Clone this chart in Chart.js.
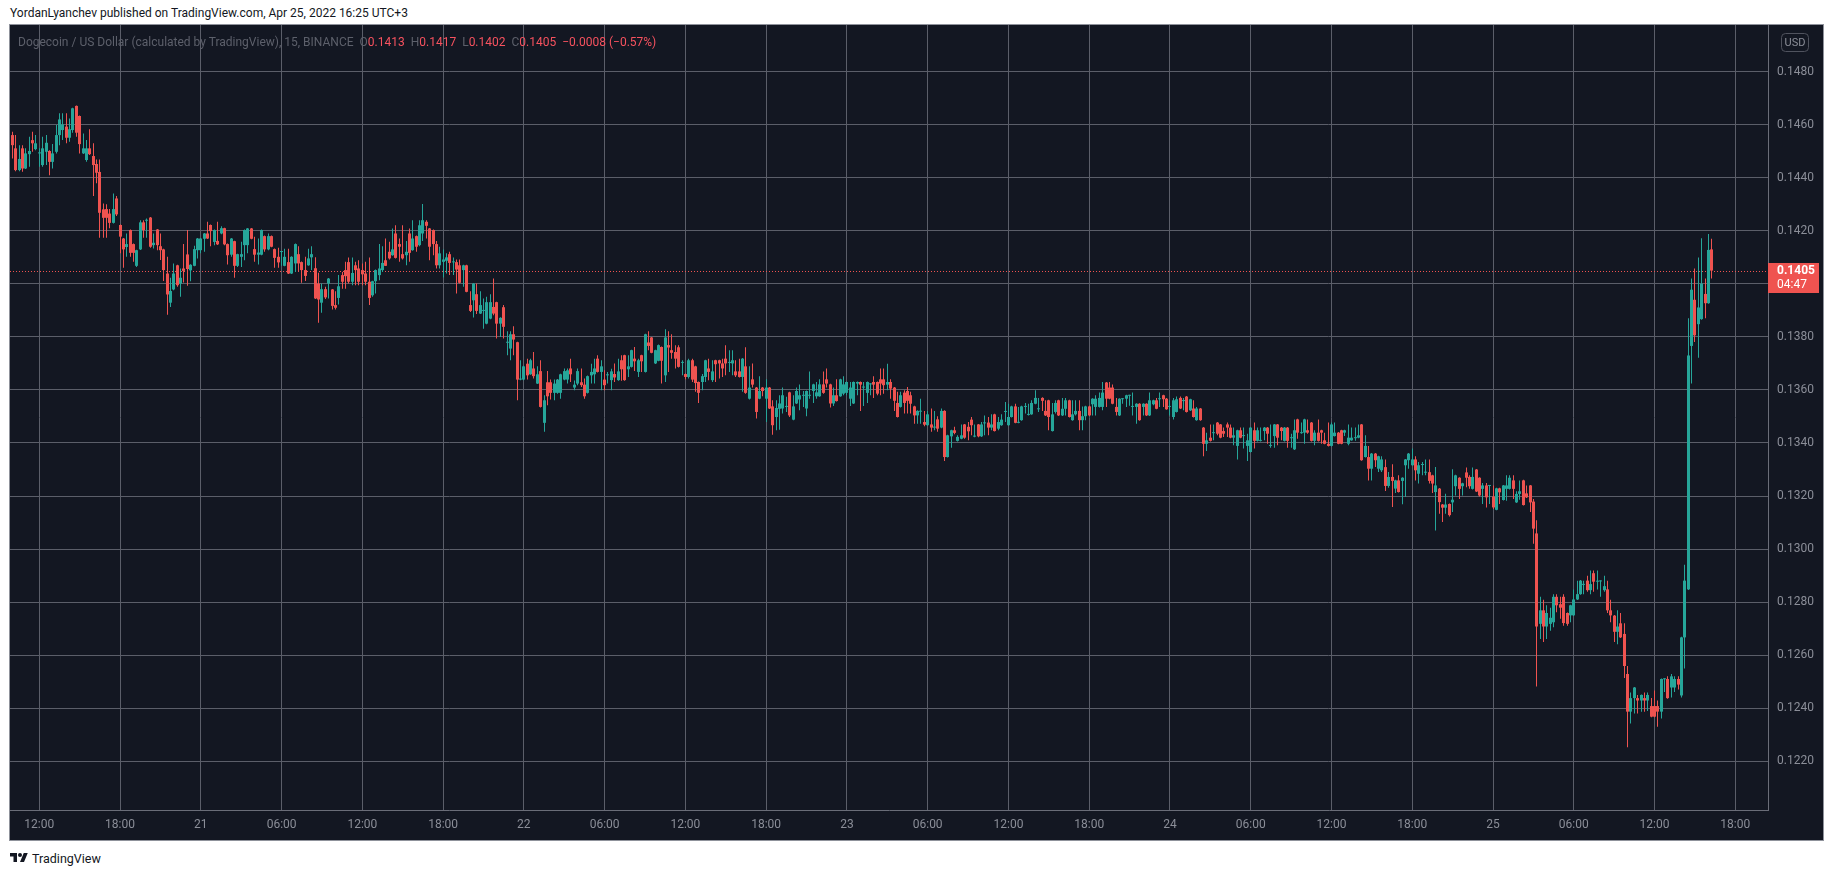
<!DOCTYPE html>
<html>
<head>
<meta charset="utf-8">
<title>DOGEUSD 15m</title>
<script src="https://cdn.jsdelivr.net/npm/chart.js@4.4.1/dist/chart.umd.min.js"></script>
<style>
  html, body { margin: 0; padding: 0; background: #ffffff; width: 1834px; height: 875px; overflow: hidden; font-family: Roboto, "Noto Sans", sans-serif; }
  #header { position: absolute; left: 10px; top: 6px; font-size: 12px; line-height: 14px; color: #131722; white-space: nowrap; }
  #frame { position: absolute; left: 10px; top: 25px; width: 1813px; height: 815px; background: #131722; outline: 1px solid #8f929b; }
  #legend { position: absolute; left: 8px; top: 10px; font-size: 12px; line-height: 14px; color: #5d606b; white-space: nowrap; }
  #legend .v { color: #f7525f; }
  #legend .gap { display: inline-block; width: 6px; }
  #footer { position: absolute; left: 10px; top: 850px; height: 16px; display: flex; align-items: center; font-size: 12.5px; color: #131722; }
  #footer svg { margin-right: 4px; }
</style>
</head>
<body>
<div id="header">YordanLyanchev published on TradingView.com, Apr 25, 2022 16:25 UTC+3</div>
<div id="frame">
  <canvas id="chart" width="1813" height="815"></canvas>
  <div id="legend"></div>
</div>
<div id="footer">
  <svg width="18" height="14" viewBox="0 0 36 28"><path d="M14 22H7V11H0V4h14v18zM28 22h-8l7.5-18h8L28 22z" fill="#131722"/><circle cx="20" cy="8" r="4" fill="#131722"/></svg>
  <span>TradingView</span>
</div>
<script>
// Dogecoin / US Dollar, 15 minute candles, 20 Apr 10:00 .. 25 Apr 16:15 (UTC+3)
// prices are in units of 0.00001 USD
const PRICE_UNIT = 0.00001;

const opens = [
  14561,14511,14429,14511,14435,14489,14542,14508,14492,14448,14498,14501,14460,14498,14561,14580,14593,14551,14580,14671,
  14633,14492,14467,14511,14482,14452,14422,14281,14282,14265,14230,14322,14222,14171,14139,14203,14150,14068,14130,14232,
  14238,14250,14146,14205,14142,14130,14039,13929,13979,14070,14001,14058,14111,14051,14068,14127,14127,14170,14190,14222,
  14158,14162,14190,14210,14150,14110,14161,14068,14102,14146,14146,14209,14131,14110,14110,14180,14130,14180,14131,14102,
  14120,14068,14082,14039,14077,14112,14082,14052,14070,14100,14059,14001,13929,13980,14001,13979,13920,13947,14033,14052,
  14082,14008,14070,14058,14052,14039,14008,13957,14010,14033,14052,14089,14121,14108,14190,14150,14112,14108,14190,14127,
  14180,14146,14190,14234,14209,14203,14150,14070,14083,14087,14112,14081,14082,14070,14052,14070,13920,13938,13961,13888,
  13898,13850,13869,13913,13931,13850,13912,13778,13756,13810,13780,13639,13639,13699,13659,13681,13624,13671,13476,13629,
  13629,13589,13589,13589,13639,13639,13681,13609,13624,13629,13620,13589,13655,13659,13718,13668,13639,13655,13637,13660,
  13637,13712,13731,13678,13687,13718,13668,13731,13668,13779,13798,13700,13710,13762,13655,13769,13750,13743,13761,13702,
  13660,13649,13712,13689,13630,13630,13649,13681,13637,13712,13712,13700,13718,13702,13700,13670,13670,13649,13689,13567,
  13640,13609,13567,13609,13567,13609,13538,13498,13529,13530,13536,13591,13488,13549,13564,13578,13530,13578,13596,13576,
  13576,13621,13640,13621,13549,13580,13576,13586,13589,13567,13549,13624,13630,13609,13589,13621,13630,13630,13640,13640,
  13620,13630,13609,13551,13536,13590,13596,13580,13538,13504,13518,13479,13467,13470,13458,13489,13458,13521,13347,13425,
  13448,13408,13416,13470,13461,13488,13424,13470,13425,13474,13477,13458,13508,13454,13467,13517,13467,13498,13538,13476,
  13486,13536,13506,13508,13548,13527,13570,13521,13561,13445,13517,13561,13504,13529,13561,13486,13508,13521,13486,13501,
  13538,13546,13536,13536,13536,13628,13609,13609,13536,13504,13565,13567,13578,13536,13536,13548,13536,13548,13504,13546,
  13561,13565,13580,13567,13536,13498,13517,13570,13558,13575,13523,13530,13486,13530,13458,13397,13420,13437,13477,13470,
  13445,13470,13458,13420,13389,13448,13426,13389,13366,13448,13408,13408,13445,13458,13389,13426,13470,13458,13408,13458,
  13418,13376,13489,13437,13439,13448,13477,13408,13439,13448,13410,13397,13389,13426,13439,13448,13439,13397,13410,13418,
  13420,13470,13347,13347,13303,13360,13303,13297,13309,13238,13272,13228,13259,13257,13316,13335,13316,13338,13284,13317,
  13288,13290,13278,13215,13228,13168,13156,13170,13176,13237,13269,13237,13289,13272,13227,13300,13269,13227,13240,13238,
  13198,13148,13229,13185,13227,13227,13259,13176,13208,13259,13210,13240,13179,13059,12718,12769,12708,12718,12724,12820,
  12792,12820,12759,12750,12750,12810,12830,12865,12881,12845,12909,12877,12878,12845,12848,12769,12749,12688,12720,12680,
  12529,12387,12438,12438,12429,12438,12429,12408,12408,12408,12387,12509,12510,12478,12478,12510,12448,12667,12848,13766,
  13940,13848,13867,13962,13927,14130
];

const highs = [
  14574,14561,14523,14523,14511,14555,14574,14561,14511,14555,14561,14504,14527,14599,14643,14643,14643,14624,14664,14673,
  14635,14567,14542,14583,14530,14469,14469,14303,14300,14282,14341,14331,14224,14173,14190,14205,14152,14129,14240,14240,
  14246,14252,14190,14207,14190,14132,14102,14023,14077,14072,14058,14150,14203,14074,14144,14173,14173,14192,14234,14224,
  14205,14234,14217,14212,14152,14173,14163,14114,14159,14205,14211,14211,14178,14171,14205,14182,14190,14182,14133,14136,
  14123,14132,14132,14104,14152,14142,14084,14102,14132,14142,14100,14042,14001,13989,14022,13981,13972,14033,14045,14083,
  14099,14099,14083,14089,14077,14083,14099,14012,14054,14150,14142,14171,14159,14209,14221,14171,14221,14162,14209,14240,
  14182,14240,14301,14240,14211,14205,14162,14140,14130,14115,14121,14099,14092,14092,14072,14072,13972,14003,14001,13972,
  13945,13951,13961,14020,13933,13874,13920,13821,13821,13840,13782,13712,13691,13718,13718,13743,13689,13712,13580,13671,
  13639,13639,13641,13661,13681,13681,13718,13636,13681,13681,13643,13654,13699,13718,13731,13712,13674,13668,13680,13700,
  13718,13731,13733,13731,13752,13762,13718,13733,13812,13821,13800,13752,13771,13764,13829,13821,13810,13769,13769,13712,
  13662,13718,13718,13691,13632,13660,13714,13718,13712,13714,13714,13718,13769,13750,13750,13712,13718,13720,13761,13689,
  13700,13611,13652,13611,13640,13611,13561,13561,13580,13609,13574,13593,13580,13609,13621,13596,13598,13670,13623,13630,
  13640,13670,13681,13623,13609,13640,13642,13652,13632,13630,13632,13632,13632,13630,13632,13625,13652,13632,13681,13681,
  13699,13640,13611,13593,13593,13599,13611,13593,13540,13523,13567,13521,13521,13530,13521,13501,13530,13523,13431,13450,
  13461,13429,13470,13472,13479,13498,13470,13472,13479,13504,13498,13508,13510,13498,13508,13555,13548,13540,13548,13536,
  13540,13551,13548,13561,13599,13570,13572,13561,13563,13551,13561,13563,13570,13570,13563,13561,13561,13561,13538,13540,
  13540,13569,13580,13590,13630,13630,13630,13621,13570,13569,13570,13582,13582,13590,13550,13550,13550,13550,13590,13563,
  13570,13590,13582,13570,13561,13570,13575,13575,13570,13577,13567,13561,13536,13532,13460,13439,13470,13470,13479,13472,
  13458,13477,13470,13458,13450,13458,13458,13435,13460,13477,13458,13458,13460,13460,13470,13472,13472,13460,13460,13460,
  13435,13489,13491,13477,13491,13489,13479,13448,13489,13450,13439,13477,13477,13477,13441,13450,13450,13470,13458,13458,
  13470,13472,13429,13389,13362,13362,13352,13350,13338,13291,13320,13261,13278,13271,13340,13362,13379,13350,13328,13328,
  13338,13338,13280,13309,13230,13170,13209,13172,13301,13280,13271,13250,13308,13278,13308,13302,13271,13249,13249,13242,
  13240,13231,13231,13242,13278,13278,13278,13218,13259,13261,13240,13242,13189,13109,12820,12809,12788,12779,12830,12830,
  12820,12830,12761,12790,12848,12881,12883,12881,12899,12919,12919,12919,12882,12899,12881,12809,12751,12769,12759,12720,
  12559,12459,12480,12450,12452,12459,12459,12438,12467,12429,12512,12513,12520,12529,12520,12520,12669,12941,13870,14020,
  14058,14099,14172,14020,14188,14170
];

const lows = [
  14473,14425,14425,14423,14433,14442,14498,14504,14442,14442,14448,14410,14435,14492,14523,14542,14530,14536,14570,14555,
  14492,14490,14460,14486,14331,14379,14174,14174,14174,14210,14228,14256,14115,14061,14102,14102,14083,14064,14128,14174,
  14174,14136,14133,14127,14090,14011,13884,13913,13976,13989,13951,14005,13993,14010,14066,14096,14115,14121,14169,14142,
  14146,14147,14187,14146,14073,14102,14023,14064,14064,14089,14115,14168,14083,14073,14108,14121,14127,14138,14061,14061,
  14068,14066,14037,14037,14045,14045,14004,14011,14068,14052,13943,13853,13891,13943,13945,13903,13903,13922,13982,13982,
  14001,13995,13995,13995,13995,13995,13920,13951,13964,14014,14045,14067,14092,14106,14096,14083,14092,14070,14083,14125,
  14121,14142,14162,14171,14089,14108,14058,14058,14024,14039,14033,14033,13964,14001,13989,13968,13894,13873,13886,13886,
  13831,13848,13867,13882,13794,13800,13794,13731,13712,13731,13561,13637,13637,13639,13657,13643,13622,13534,13442,13542,
  13564,13561,13586,13567,13637,13624,13630,13599,13618,13611,13567,13587,13624,13624,13666,13599,13599,13624,13599,13630,
  13635,13635,13635,13649,13685,13671,13649,13668,13666,13750,13738,13698,13708,13624,13630,13668,13718,13681,13685,13655,
  13640,13643,13630,13593,13551,13599,13630,13637,13630,13630,13643,13649,13655,13668,13655,13649,13647,13593,13586,13564,
  13609,13492,13565,13576,13479,13528,13431,13448,13450,13511,13517,13498,13486,13547,13523,13536,13501,13567,13551,13567,
  13574,13586,13609,13534,13539,13556,13574,13580,13580,13539,13547,13580,13521,13539,13551,13580,13570,13580,13580,13586,
  13599,13567,13521,13496,13534,13511,13511,13511,13473,13473,13473,13463,13465,13442,13448,13442,13456,13332,13345,13382,
  13433,13406,13414,13416,13410,13429,13422,13422,13423,13429,13429,13448,13443,13448,13465,13479,13465,13496,13474,13474,
  13484,13511,13504,13506,13546,13517,13521,13502,13448,13443,13511,13502,13502,13504,13496,13484,13504,13448,13448,13486,
  13502,13504,13504,13534,13523,13536,13565,13546,13504,13502,13548,13536,13540,13504,13473,13484,13504,13502,13502,13542,
  13527,13536,13536,13525,13504,13489,13515,13528,13523,13515,13521,13496,13484,13484,13350,13370,13406,13410,13429,13418,
  13423,13423,13418,13391,13338,13418,13379,13332,13364,13379,13406,13406,13410,13397,13382,13382,13391,13410,13406,13382,
  13382,13374,13416,13435,13397,13435,13406,13391,13406,13397,13395,13387,13387,13424,13395,13395,13426,13391,13408,13408,
  13418,13333,13345,13259,13259,13309,13291,13291,13219,13231,13159,13211,13213,13169,13196,13303,13314,13259,13247,13278,
  13278,13247,13211,13070,13133,13102,13133,13123,13140,13202,13189,13202,13233,13227,13225,13215,13198,13170,13157,13170,
  13151,13146,13170,13183,13182,13225,13189,13174,13186,13164,13193,13140,13020,12482,12661,12650,12661,12692,12705,12762,
  12737,12711,12711,12724,12748,12808,12828,12830,12839,12830,12839,12848,12820,12839,12759,12724,12650,12641,12665,12514,
  12253,12342,12380,12380,12387,12387,12389,12366,12366,12330,12361,12461,12436,12440,12461,12470,12440,12550,12846,13624,
  13781,13721,13865,13870,13925,14020
];

const closes = [
  14523,14429,14471,14435,14492,14501,14530,14530,14495,14511,14532,14460,14492,14561,14620,14601,14551,14583,14662,14570,
  14527,14511,14511,14489,14448,14419,14268,14249,14249,14230,14282,14262,14178,14130,14150,14117,14117,14127,14232,14203,
  14240,14140,14155,14146,14127,14052,13960,13973,14039,13995,14023,14049,14056,14072,14131,14171,14171,14190,14171,14199,
  14203,14149,14210,14149,14108,14171,14068,14112,14112,14203,14209,14170,14110,14118,14203,14130,14180,14140,14098,14081,
  14121,14102,14039,14102,14150,14077,14052,14030,14096,14112,13945,13941,13980,13949,14020,13917,13910,13991,14008,14029,
  14008,14041,14052,14008,14036,14008,13947,14010,14052,14058,14079,14068,14096,14130,14098,14140,14096,14121,14117,14171,
  14140,14221,14240,14219,14140,14150,14070,14115,14092,14100,14079,14083,14054,14004,14070,13970,13898,14001,13898,13920,
  13901,13931,13931,13888,13850,13872,13838,13780,13810,13790,13639,13641,13689,13655,13712,13652,13659,13536,13561,13576,
  13589,13624,13639,13659,13671,13674,13659,13620,13671,13618,13576,13652,13668,13681,13668,13689,13618,13659,13670,13647,
  13670,13678,13637,13689,13750,13708,13712,13708,13810,13766,13740,13750,13769,13710,13798,13760,13740,13718,13687,13704,
  13649,13712,13639,13626,13589,13652,13712,13668,13670,13697,13700,13681,13700,13704,13712,13655,13649,13718,13589,13609,
  13620,13517,13596,13596,13609,13530,13467,13532,13549,13580,13539,13504,13538,13596,13580,13580,13596,13580,13621,13591,
  13621,13589,13624,13549,13580,13558,13640,13621,13630,13609,13630,13630,13620,13611,13630,13623,13620,13586,13624,13618,
  13630,13605,13559,13498,13580,13551,13559,13548,13504,13521,13521,13469,13508,13458,13460,13454,13521,13347,13429,13448,
  13438,13423,13429,13420,13444,13467,13426,13425,13470,13476,13458,13470,13445,13479,13488,13519,13498,13538,13476,13478,
  13538,13538,13508,13551,13570,13529,13559,13504,13498,13508,13551,13504,13529,13561,13498,13508,13521,13486,13501,13538,
  13504,13567,13567,13570,13590,13567,13567,13548,13517,13567,13567,13580,13580,13538,13548,13486,13548,13504,13561,13561,
  13529,13567,13565,13527,13538,13561,13565,13530,13560,13517,13565,13498,13530,13486,13397,13410,13408,13439,13435,13420,
  13435,13458,13420,13429,13448,13420,13429,13410,13458,13408,13448,13410,13458,13435,13391,13470,13420,13445,13458,13408,
  13420,13448,13439,13439,13489,13439,13408,13439,13408,13439,13397,13389,13470,13439,13397,13397,13448,13420,13420,13420,
  13429,13335,13389,13303,13360,13335,13350,13338,13238,13272,13257,13259,13215,13269,13338,13360,13338,13297,13316,13319,
  13290,13257,13247,13240,13177,13156,13168,13128,13186,13278,13227,13248,13269,13237,13272,13217,13202,13240,13195,13240,
  13157,13229,13214,13240,13240,13269,13227,13208,13218,13166,13195,13176,13077,12708,12769,12708,12759,12741,12820,12788,
  12779,12721,12718,12788,12810,12830,12881,12867,12845,12868,12877,12879,12880,12860,12769,12750,12688,12708,12667,12559,
  12387,12438,12478,12429,12450,12429,12450,12368,12368,12387,12510,12511,12438,12520,12510,12489,12667,12881,13730,13978,
  13806,13911,14001,13927,14128,14050
];

// time axis: candle slot of each grid line and its label
const timeTickSlots = [8, 32, 56, 80, 104, 128, 152, 176, 200, 224, 248, 272, 296, 320, 344, 368, 392, 416, 440, 464, 488, 512];
const timeTickLabels = ["12:00", "18:00", "21", "06:00", "12:00", "18:00", "22", "06:00", "12:00", "18:00", "23",
  "06:00", "12:00", "18:00", "24", "06:00", "12:00", "18:00", "25", "06:00", "12:00", "18:00"];
const priceTicks = [0.1220, 0.1240, 0.1260, 0.1280, 0.1300, 0.1320, 0.1340, 0.1360, 0.1380, 0.1400, 0.1420, 0.1440, 0.1460, 0.1480];

const symbolTitle = "Dogecoin / US Dollar (calculated by TradingView), 15, BINANCE";
const changeText = "\u22120.0008 (\u22120.57%)";
const barCountdown = "04:47";

const UP = "#26a69a";
const DOWN = "#ef5350";
const GRID = "#5b5e69";
const AXIS_LINE = "#6a6d78";
const AXIS_TEXT = "#8b8e98";

const last = closes.length - 1;
const fmt = (v) => (v * PRICE_UNIT).toFixed(4);

document.getElementById("legend").innerHTML =
  `${symbolTitle}<span class="gap"></span>` +
  `O<span class="v">${fmt(opens[last])}</span><span class="gap"></span>` +
  `H<span class="v">${fmt(highs[last])}</span><span class="gap"></span>` +
  `L<span class="v">${fmt(lows[last])}</span><span class="gap"></span>` +
  `C<span class="v">${fmt(closes[last])}</span><span class="gap"></span>` +
  `<span class="v">${changeText}</span>`;

const candleColors = closes.map((c, i) => (c >= opens[i] ? UP : DOWN));
const bodyData = closes.map((c, i) => ({ x: i, y: [opens[i] * PRICE_UNIT, c * PRICE_UNIT] }));
const wickData = closes.map((c, i) => ({ x: i, y: [lows[i] * PRICE_UNIT, highs[i] * PRICE_UNIT] }));

// put every bar on a whole pixel column so wicks stay 1px sharp
const snapBars = {
  id: "snapBars",
  beforeDatasetsDraw(chart) {
    chart.getSortedVisibleDatasetMetas().forEach((meta) => {
      meta.data.forEach((el) => {
        el.x = Math.floor(el.x) + 0.5;
      });
    });
  },
};

const lastPrice = {
  id: "lastPrice",
  beforeDatasetsDraw(chart) {
    const { ctx, chartArea, scales } = chart;
    const py = Math.round(scales.y.getPixelForValue(closes[last] * PRICE_UNIT)) + 0.5;
    ctx.save();
    ctx.strokeStyle = DOWN;
    ctx.lineWidth = 1;
    ctx.setLineDash([1, 2]);
    ctx.beginPath();
    ctx.moveTo(chartArea.left, py);
    ctx.lineTo(chartArea.right, py);
    ctx.stroke();
    ctx.restore();
  },
  afterDraw(chart) {
    const { ctx, chartArea, scales } = chart;
    const py = Math.round(scales.y.getPixelForValue(closes[last] * PRICE_UNIT));
    const x0 = chartArea.right;
    ctx.save();
    ctx.fillStyle = DOWN;
    ctx.fillRect(x0, py - 8, 51, 30);
    ctx.fillStyle = "#ffffff";
    ctx.textBaseline = "middle";
    ctx.font = "bold 12px Roboto";
    ctx.fillText(fmt(closes[last]), x0 + 9, py);
    ctx.font = "12px Roboto";
    ctx.fillText(barCountdown, x0 + 9, py + 14);

    // currency badge
    ctx.strokeStyle = "#50535e";
    ctx.lineWidth = 1;
    ctx.beginPath();
    ctx.roundRect(x0 + 13.5, 8.5, 27, 18, 4);
    ctx.stroke();
    ctx.fillStyle = AXIS_TEXT;
    ctx.font = "11px Roboto";
    ctx.textAlign = "center";
    ctx.fillText("USD", x0 + 27, 18);
    ctx.restore();
  },
};

Chart.defaults.font.family = "Roboto";

new Chart(document.getElementById("chart"), {
  type: "bar",
  data: {
    datasets: [
      {
        label: "body",
        data: bodyData,
        backgroundColor: candleColors,
        barThickness: 3,
        minBarLength: 1,
        grouped: false,
        inflateAmount: 0,
        borderWidth: 0,
        order: 0,
      },
      {
        label: "wick",
        data: wickData,
        backgroundColor: candleColors,
        barThickness: 1,
        grouped: false,
        inflateAmount: 0,
        borderWidth: 0,
        order: 1,
      },
    ],
  },
  options: {
    responsive: false,
    animation: false,
    events: [],
    layout: { padding: 0 },
    plugins: {
      legend: { display: false },
      tooltip: { enabled: false },
    },
    scales: {
      x: {
        type: "linear",
        min: -0.707,
        max: 521.72,
        offset: false,
        grid: { color: GRID, lineWidth: 1, drawTicks: false, offset: false },
        border: { display: true, color: AXIS_LINE },
        ticks: {
          autoSkip: false,
          maxRotation: 0,
          padding: 8,
          color: AXIS_TEXT,
          font: { size: 12 },
          callback: (value, index) => timeTickLabels[index],
        },
        afterBuildTicks: (scale) => {
          scale.ticks = timeTickSlots.map((v) => ({ value: v }));
        },
        afterFit: (scale) => {
          scale.height = 30;
          scale.paddingLeft = 0;
          scale.paddingRight = 0;
        },
      },
      y: {
        position: "right",
        min: 0.120161,
        max: 0.149761,
        grid: { color: GRID, lineWidth: 1, drawTicks: false },
        border: { display: true, color: AXIS_LINE },
        ticks: {
          padding: 9,
          color: AXIS_TEXT,
          font: { size: 12 },
          callback: (value) => value.toFixed(4),
        },
        afterBuildTicks: (scale) => {
          scale.ticks = priceTicks.map((v) => ({ value: v }));
        },
        afterFit: (scale) => {
          scale.width = 55;
          scale.paddingTop = 0;
          scale.paddingBottom = 0;
        },
      },
    },
  },
  plugins: [snapBars, lastPrice],
});
</script>
</body>
</html>
